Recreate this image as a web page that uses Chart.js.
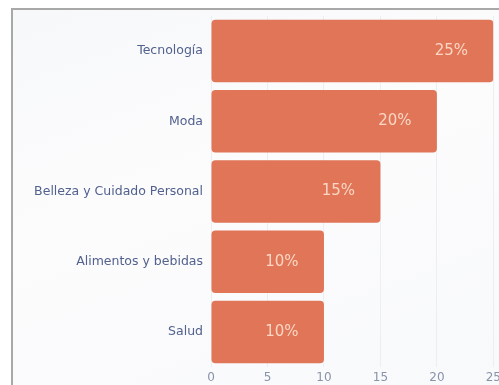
<!DOCTYPE html>
<html>
<head>
<meta charset="utf-8">
<script src="https://cdn.jsdelivr.net/npm/chart.js@4.4.1/dist/chart.umd.min.js"></script>
<style>
  html, body { margin: 0; padding: 0; width: 499px; height: 385px; overflow: hidden; background: #ffffff; }
  .marco {
    position: absolute; left: 11px; top: 8px; width: 500px; height: 400px;
    border-left: 2px solid #a8a8a8; border-top: 2px solid #a8a8a8;
    background: linear-gradient(160deg, #f7f8fa 0%, #fcfcfd 40%, #f8f9fb 100%);
  }
  .lienzo { position: absolute; left: 0; top: 0; width: 505px; height: 385px; }
</style>
</head>
<body>
<div class="marco"></div>
<div class="lienzo"><canvas id="graficoSectores"></canvas></div>
<script>
// Sectores y porcentaje de cada uno
const categorias = ['Tecnología', 'Moda', 'Belleza y Cuidado Personal', 'Alimentos y bebidas', 'Salud'];
const porcentajes = [25, 20, 15, 10, 10];
const ticksX = [0, 5, 10, 15, 20, 25];

const colorBarra = '#e07557';
const fuente = "'DejaVu Sans', 'Noto Sans', sans-serif";

// Plugin sencillo para escribir el porcentaje dentro de cada barra
const etiquetasValor = {
  id: 'etiquetasValor',
  afterDatasetsDraw(chart) {
    const { ctx } = chart;
    const meta = chart.getDatasetMeta(0);
    ctx.save();
    ctx.font = '15px ' + fuente;
    ctx.fillStyle = '#fbd6c4';
    ctx.textAlign = 'center';
    ctx.textBaseline = 'middle';
    meta.data.forEach((barra, i) => {
      ctx.fillText(porcentajes[i] + '%', barra.x - 42, barra.y);
    });
    ctx.restore();
  }
};

const ctx = document.getElementById('graficoSectores').getContext('2d');

new Chart(ctx, {
  type: 'bar',
  data: {
    labels: categorias,
    datasets: [{
      data: porcentajes,
      backgroundColor: colorBarra,
      borderRadius: 4,
      borderSkipped: false,
      categoryPercentage: 0.89,
      barPercentage: 1
    }]
  },
  options: {
    indexAxis: 'y',
    responsive: true,
    maintainAspectRatio: false,
    animation: false,
    layout: { padding: { top: 16, bottom: 0, left: 0, right: 0 } },
    plugins: {
      legend: { display: false },
      tooltip: { enabled: false }
    },
    scales: {
      x: {
        min: 0,
        max: 25,
        afterBuildTicks: (eje) => { eje.ticks = ticksX.map(v => ({ value: v })); },
        afterFit: (eje) => { eje.height = 18; },
        border: { display: false },
        grid: { color: '#eceef2', drawTicks: false },
        ticks: {
          padding: 4,
          color: '#8893aa',
          font: { family: fuente, size: 12 }
        }
      },
      y: {
        afterFit: (eje) => { eje.width = 211; },
        border: { display: false },
        grid: { display: false, drawTicks: false },
        ticks: {
          padding: 8,
          color: '#52618e',
          font: { family: fuente, size: 12.5 }
        }
      }
    }
  },
  plugins: [etiquetasValor]
});
</script>
</body>
</html>
